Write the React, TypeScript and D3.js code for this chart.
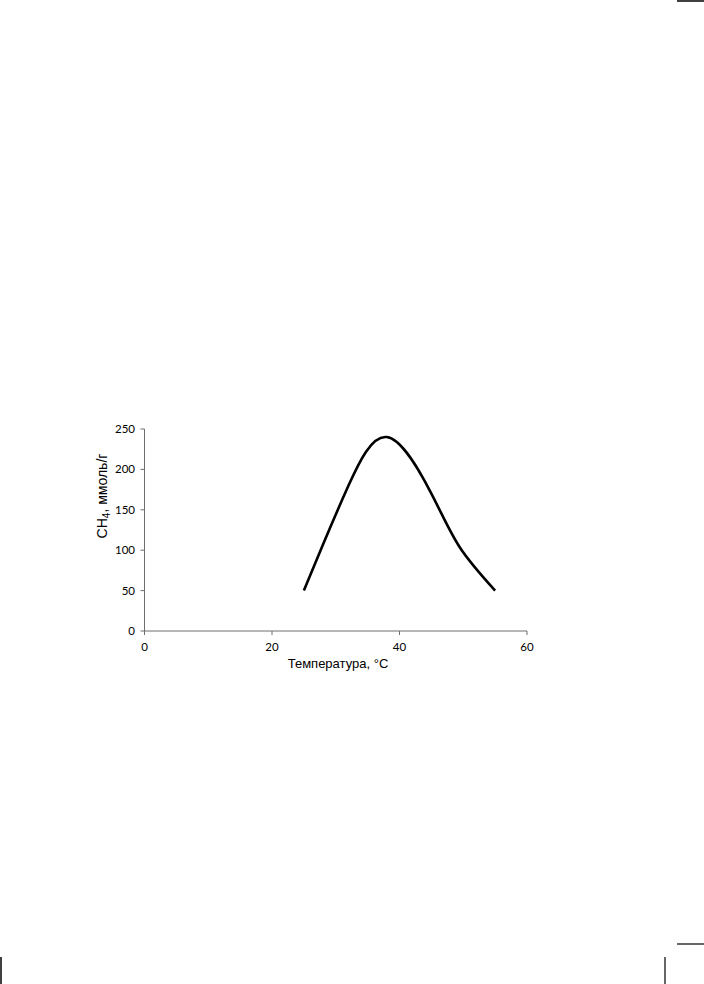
import React from "react";
import * as d3 from "d3";

const temps = [25, 28, 32, 38, 45, 49.5, 55];
const ch4 = [50, 107, 180, 240, 170, 103, 50];
const xTicks = [0, 20, 40, 60];
const yTicks = [0, 50, 100, 150, 200, 250];
const xTitle = "Температура, °C";

export default function App() {
  const x = d3.scaleLinear().domain([0, 60]).range([144.5, 527]);
  const y = d3.scaleLinear().domain([0, 250]).range([631, 429]);
  const data = temps.map((t, i) => [t, ch4[i]] as [number, number]);
  const line = d3
    .line<[number, number]>()
    .x((d) => x(d[0]))
    .y((d) => y(d[1]))
    .curve(d3.curveNatural);
  const axisColor = "#6e6e6e";
  const tickFont = "Lato, 'Open Sans', sans-serif";
  return (
    <svg
      width={704}
      height={984}
      style={{ position: "absolute", left: 0, top: 0, background: "#fff" }}
    >
      {/* crop marks */}
      <line x1={677} x2={704} y1={1} y2={1} stroke="#000" strokeWidth={1.5} />
      <line x1={677} x2={704} y1={944} y2={944} stroke="#000" strokeWidth={1.2} />
      <line x1={1} x2={1} y1={957} y2={984} stroke="#000" strokeWidth={1.5} />
      <line x1={665} x2={665} y1={957} y2={984} stroke="#000" strokeWidth={1.2} />

      {/* axes */}
      <line x1={x(0)} x2={x(0)} y1={y(0)} y2={y(250)} stroke={axisColor} strokeWidth={1} />
      <line x1={x(0)} x2={x(60)} y1={y(0)} y2={y(0)} stroke={axisColor} strokeWidth={1} />
      {yTicks.map((v) => (
        <g key={"y" + v}>
          <line x1={x(0) - 4} x2={x(0)} y1={y(v)} y2={y(v)} stroke={axisColor} />
          <text
            x={135}
            y={y(v)}
            dy="0.35em"
            textAnchor="end"
            fontSize={11.5}
            fontFamily={tickFont}
            fill="#000"
          >
            {v}
          </text>
        </g>
      ))}
      {xTicks.map((v) => (
        <g key={"x" + v}>
          <line x1={x(v)} x2={x(v)} y1={y(0)} y2={y(0) + 4} stroke={axisColor} />
          <text
            x={x(v)}
            y={647}
            dy="0.35em"
            textAnchor="middle"
            fontSize={11.5}
            fontFamily={tickFont}
            fill="#000"
          >
            {v}
          </text>
        </g>
      ))}

      {/* curve */}
      <path d={line(data) || ""} fill="none" stroke="#000" strokeWidth={2.6} strokeLinejoin="round" />

      {/* titles */}
      <text
        x={338}
        y={663}
        dy="0.35em"
        textAnchor="middle"
        fontSize={13}
        fontFamily="'Liberation Sans', Arial, sans-serif"
        fill="#000"
      >
        {xTitle}
      </text>
      <text
        transform={`translate(107,496) rotate(-90)`}
        textAnchor="middle"
        fontSize={14}
        fontFamily="'Liberation Sans', Arial, sans-serif"
        fill="#000"
      >
        CH
        <tspan fontSize={10} dy={3}>4</tspan>
        <tspan dy={-3}>, ммоль/г</tspan>
      </text>
    </svg>
  );
}
